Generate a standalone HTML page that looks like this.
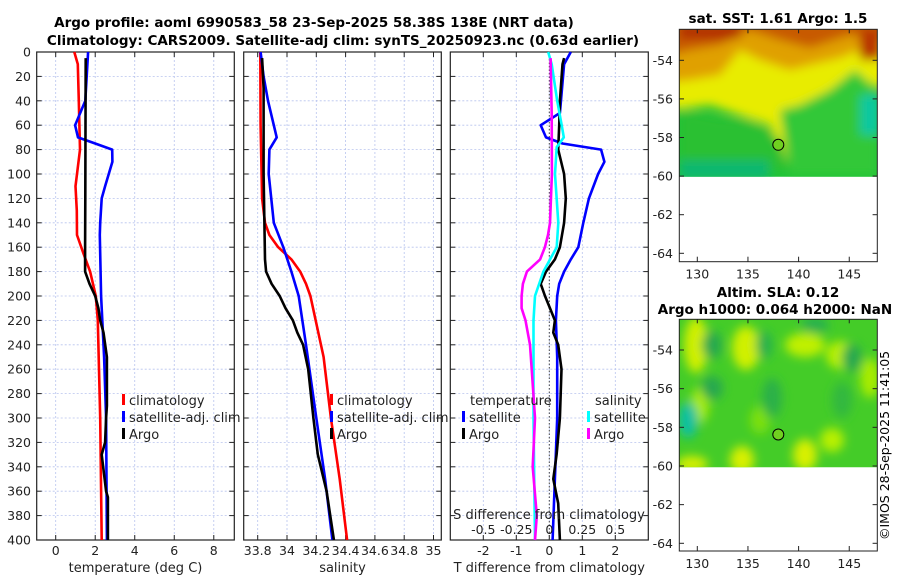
<!DOCTYPE html>
<html><head><meta charset="utf-8"><style>
body{margin:0;background:#fff;}
svg{display:block;font-family:"DejaVu Sans","Liberation Sans",sans-serif;}
</style></head><body>
<svg id="c" width="900" height="580" viewBox="0 0 900 580">
<defs>
<filter id="bl" x="-30%" y="-30%" width="160%" height="160%"><feGaussianBlur stdDeviation="5"/></filter>
<filter id="bl2" x="-50%" y="-50%" width="200%" height="200%"><feGaussianBlur stdDeviation="5"/></filter>
<clipPath id="m1c"><rect x="679.3" y="29.3" width="198" height="147.4"/></clipPath>
<clipPath id="m2c"><rect x="679.3" y="319.3" width="198" height="148"/></clipPath>
</defs>
<g font-weight="bold" font-size="13.5" text-anchor="middle">
<text x="314" y="27">Argo profile: aoml 6990583_58 23-Sep-2025 58.38S 138E (NRT data)</text>
<text x="343" y="45">Climatology: CARS2009. Satellite-adj clim: synTS_20250923.nc (0.63d earlier)</text>
</g>
<g id="plots"></g>
<g>
<text x="778" y="23" font-weight="bold" font-size="13.5" text-anchor="middle">sat. SST: 1.61 Argo: 1.5</text>
<g clip-path="url(#m1c)">
<rect x="679" y="29" width="199" height="148" fill="#20c438"/>
<g filter="url(#bl)">
<polygon points="670,20 890,20 890,90 860,80 820,120 790,170 770,125 740,115 710,105 670,110" fill="#e8ec00"/>
<polygon points="670,20 890,20 890,60 860,50 840,58 810,65 790,70 760,60 740,50 720,75 690,80 670,82" fill="#e0a000"/>
<polygon points="670,20 890,20 890,40 850,35 810,48 780,40 750,30 720,45 690,50 670,55" fill="#c85a00"/>
<rect x="680" y="26" width="60" height="12" fill="#b02800"/>
<rect x="860" y="30" width="20" height="30" fill="#b83000"/>
<polygon points="680,110 720,118 750,120 770,130 780,140 790,170 680,170" fill="#2cc030"/>
<polygon points="780,110 800,105 830,90 855,70 878,90 878,176 790,176" fill="#30c838"/>
<rect x="860" y="95" width="20" height="40" fill="#10c8a0"/>
<rect x="679" y="160" width="90" height="20" fill="#10b870"/>
</g>
</g>
<rect x="679.3" y="29.3" width="198" height="232.4" fill="none" stroke="#222" stroke-width="1"/>
<circle cx="778.3" cy="144.8" r="5.5" fill="#70d020" stroke="#000" stroke-width="1"/>
<g id="m1ax"></g>
</g>
<g>
<text x="778" y="297" font-weight="bold" font-size="13.5" text-anchor="middle">Altim. SLA: 0.12</text>
<text x="775" y="314" font-weight="bold" font-size="13.5" text-anchor="middle">Argo h1000: 0.064 h2000: NaN</text>
<g clip-path="url(#m2c)">
<rect x="679" y="319" width="199" height="149" fill="#44cc28"/>
<g filter="url(#bl2)">
<ellipse cx="696" cy="345" rx="12" ry="28" fill="#d0f000"/>
<ellipse cx="746" cy="348" rx="14" ry="22" fill="#d0f000"/>
<ellipse cx="805" cy="345" rx="20" ry="12" fill="#c0f000"/>
<ellipse cx="840" cy="355" rx="14" ry="14" fill="#b8f000"/>
<ellipse cx="700" cy="405" rx="9" ry="18" fill="#a8ec00"/>
<ellipse cx="742" cy="460" rx="12" ry="14" fill="#d8f000"/>
<ellipse cx="805" cy="455" rx="12" ry="16" fill="#d8f000"/>
<ellipse cx="832" cy="440" rx="12" ry="12" fill="#b8f000"/>
<ellipse cx="870" cy="378" rx="10" ry="20" fill="#a8ec00"/>
<ellipse cx="692" cy="464" rx="16" ry="8" fill="#d8f000"/>
<ellipse cx="760" cy="420" rx="10" ry="14" fill="#7ce010"/>
<ellipse cx="712" cy="345" rx="10" ry="14" fill="#28a850"/>
<ellipse cx="712" cy="388" rx="11" ry="12" fill="#28a850"/>
<ellipse cx="764" cy="345" rx="8" ry="14" fill="#28b050"/>
<ellipse cx="815" cy="325" rx="14" ry="8" fill="#28b050"/>
<ellipse cx="772" cy="398" rx="10" ry="20" fill="#2cb048"/>
<ellipse cx="852" cy="358" rx="10" ry="14" fill="#28a850"/>
<ellipse cx="688" cy="420" rx="10" ry="18" fill="#10c0a0"/>
<ellipse cx="842" cy="400" rx="10" ry="18" fill="#30b840"/>
</g>
</g>
<rect x="679.3" y="319.3" width="198" height="231.7" fill="none" stroke="#222" stroke-width="1"/>
<circle cx="778.3" cy="434.5" r="5.5" fill="#70d020" stroke="#000" stroke-width="1"/>
<g id="m2ax"></g>
</g>
<text transform="translate(889,540) rotate(-90)" font-size="12.5">©IMOS 28-Sep-2025 11:41:05</text>
</svg>
<script>
// ---- data (depth in m) ----
const tClimDepth=[0,10,40,80,100,110,130,150,165,180,200,220,300,400];
const tClimVal=[0.94,1.12,1.17,1.23,1.08,1.0,1.07,1.08,1.4,1.74,2.03,2.13,2.25,2.33];
const tSatDepth=[0,40,60,70,75,80,90,110,120,140,150,200,250,300,400];
const tSatVal=[1.64,1.5,0.98,1.13,2.0,2.86,2.87,2.5,2.33,2.25,2.23,2.3,2.45,2.55,2.59];
const tArgoDepth=[5,60,120,160,180,190,200,210,220,230,250,290,300,320,330,360,365,400];
const tArgoVal=[1.52,1.51,1.5,1.49,1.49,1.71,2.0,2.16,2.25,2.42,2.59,2.59,2.55,2.5,2.33,2.55,2.64,2.64];
const sClimDepth=[0,60,120,140,150,160,170,180,190,200,250,300,350,400];
const sClimVal=[33.818,33.82,33.83,33.85,33.88,33.94,34.03,34.09,34.13,34.16,34.25,34.30,34.36,34.41];
const sSatDepth=[0,20,40,60,70,80,100,140,160,180,200,240,300,350,400];
const sSatVal=[33.82,33.84,33.87,33.91,33.93,33.88,33.875,33.91,33.975,34.03,34.08,34.13,34.20,34.26,34.31];
const sArgoDepth=[5,30,100,170,180,190,200,210,220,230,240,260,300,330,360,400];
const sArgoVal=[33.83,33.84,33.84,33.85,33.857,33.895,33.95,33.99,34.04,34.07,34.11,34.145,34.18,34.21,34.27,34.32];
const dtSatDepth=[0,10,50,60,70,75,80,90,100,120,140,160,170,180,190,200,220,250,300,350,400];
const dtSatVal=[0.65,0.45,0.32,-0.26,-0.1,0.4,1.57,1.67,1.48,1.2,1.03,0.88,0.65,0.45,0.3,0.24,0.2,0.24,0.24,0.17,0.1];
const dtArgoDepth=[5,10,40,60,80,100,120,140,160,170,180,190,200,210,220,230,240,260,300,330,350,370,400];
const dtArgoVal=[0.45,0.4,0.32,0.3,0.27,0.45,0.5,0.45,0.32,0.17,-0.1,-0.26,-0.13,0.02,0.17,0.12,0.27,0.37,0.32,0.22,0.12,0.27,0.32];
const dsSatDepth=[0,10,40,60,70,78,100,140,160,180,200,220,300,400];
const dsSatVal=[-0.008,0.018,0.06,0.094,0.11,0.056,0.043,0.068,0.056,-0.045,-0.108,-0.12,-0.12,-0.108];
const dsArgoDepth=[5,50,100,140,150,160,170,180,190,200,210,220,240,260,300,340,380,400];
const dsArgoVal=[0.01,0.018,0.02,0.005,-0.01,-0.033,-0.07,-0.17,-0.2,-0.21,-0.21,-0.18,-0.146,-0.133,-0.108,-0.126,-0.095,-0.108];
const depthTicks=[0,20,40,60,80,100,120,140,160,180,200,220,240,260,280,300,320,340,360,380,400];
const tTicks=[0,2,4,6,8];
const sTicks=[33.8,34,34.2,34.4,34.6,34.8,35];
const sTickLabels=['33.8','34','34.2','34.4','34.6','34.8','35'];
const dtTicks=[-2,-1,0,1,2];
const dsTicks=[-0.5,-0.25,0,0.25,0.5];
const dsTickLabels=['-0.5','-0.25','0','0.25','0.5'];
const latTicks=[-54,-56,-58,-60,-62,-64];
const lonTicks=[130,135,140,145];

const NS='http://www.w3.org/2000/svg';
const svg=document.getElementById('c');
const plots=document.getElementById('plots');
const Y0=52, Y1=540;
const yD=d=>Y0+(Y1-Y0)*d/400;
function mk(tag,attrs,parent){const e=document.createElementNS(NS,tag);for(const k in attrs)e.setAttribute(k,attrs[k]);(parent||plots).appendChild(e);return e;}
function txt(x,y,s,anchor,size,parent){const t=mk('text',{x:x,y:y,'font-size':size||12.5,'text-anchor':anchor||'middle',fill:'#222'},parent);t.textContent=s;return t;}

function panel(name,x0,x1,xs,xt,xtl,label){
  const g=mk('g',{});
  
  
  xt.forEach(v=>{mk('line',{x1:xs(v),x2:xs(v),y1:Y0,y2:Y1,stroke:'#b8c4ee','stroke-width':0.8,'stroke-dasharray':'2,2'},g);});
  depthTicks.forEach(d=>{if(d>0&&d<400)mk('line',{x1:x0,x2:x1,y1:yD(d),y2:yD(d),stroke:'#b8c4ee','stroke-width':0.8,'stroke-dasharray':'2,2'},g);});
  mk('rect',{x:x0,y:Y0,width:x1-x0,height:Y1-Y0,fill:'none',stroke:'#222','stroke-width':1.2},g);
  depthTicks.forEach(d=>{mk('line',{x1:x0,x2:x0+5,y1:yD(d),y2:yD(d),stroke:'#222'},g);mk('line',{x1:x1-5,x2:x1,y1:yD(d),y2:yD(d),stroke:'#222'},g);});
  xt.forEach((v,i)=>{mk('line',{x1:xs(v),x2:xs(v),y1:Y1,y2:Y1-5,stroke:'#222'},g);mk('line',{x1:xs(v),x2:xs(v),y1:Y0,y2:Y0+5,stroke:'#222'},g);
    const t=txt(xs(v),555,xtl?xtl[i]:String(v),'middle',12.5,g);
    
    });
  const l=txt((x0+x1)/2,572,label,'middle',13,g);
  
  
  return g;
}
function line(g,depths,vals,xs,color,name){
  const p=depths.map((d,i)=>xs(vals[i]).toFixed(1)+','+yD(d).toFixed(1)).join(' ');
  const e=mk('polyline',{points:p,fill:'none',stroke:color,'stroke-width':2.6,'stroke-linejoin':'round'},g);
  
  
}
depthTicks.forEach(d=>{const t=txt(31,yD(d)+4.5,String(d),'end',12.5);
  
  });

const xT=v=>55.7+19.76*v;
const g1=panel('temperature-panel',36.7,234.3,xT,tTicks,null,'temperature (deg C)');
line(g1,tClimDepth,tClimVal,xT,'#ff0000','temp-climatology-line');
line(g1,tSatDepth,tSatVal,xT,'#0000ff','temp-satellite-line');
line(g1,tArgoDepth,tArgoVal,xT,'#000000','temp-argo-line');
function legend(g,x,y,items){items.forEach((it,i)=>{mk('rect',{x:x,y:y+i*17-11,width:3,height:11,fill:it[1]},g);
  const t=txt(x+7,y+i*17,it[0],'start',13,g);
  
  });}
legend(g1,122,405,[['climatology','#ff0000'],['satellite-adj. clim','#0000ff'],['Argo','#000']]);

const xS=v=>257.7+146.5*(v-33.8);
const g2=panel('salinity-panel',243.7,441.3,xS,sTicks,sTickLabels,'salinity');
line(g2,sClimDepth,sClimVal,xS,'#ff0000','sal-climatology-line');
line(g2,sSatDepth,sSatVal,xS,'#0000ff','sal-satellite-line');
line(g2,sArgoDepth,sArgoVal,xS,'#000000','sal-argo-line');
legend(g2,330,405,[['climatology','#ff0000'],['satellite-adj. clim','#0000ff'],['Argo','#000']]);

const xdT=v=>549.3+33*v;
const xdS=v=>549.3+132*v;
const g3=panel('difference-panel',450.3,648.3,xdT,dtTicks,null,'T difference from climatology');
mk('line',{x1:xdT(0),x2:xdT(0),y1:Y0,y2:Y1,stroke:'#444','stroke-width':1,'stroke-dasharray':'1.5,2'},g3);
line(g3,dtSatDepth,dtSatVal,xdT,'#0000ff','dt-satellite-line');
line(g3,dtArgoDepth,dtArgoVal,xdT,'#000000','dt-argo-line');
line(g3,dsSatDepth,dsSatVal,xdS,'#00ffff','ds-satellite-line');
line(g3,dsArgoDepth,dsArgoVal,xdS,'#ff00ff','ds-argo-line');
txt(470,405,'temperature','start',13,g3);
txt(595,405,'salinity','start',13,g3);
legend(g3,462,422,[['satellite','#0000ff'],['Argo','#000']]);
legend(g3,587,422,[['satellite','#00ffff'],['Argo','#ff00ff']]);
const st=txt(549,519,'S difference from climatology','middle',13,g3);


dsTicks.forEach((v,i)=>{const t=txt(xdS(v),534,dsTickLabels[i],'middle',12.5,g3);
  
  });

function mapAx(id,top,bottom,latY){
  const g=document.getElementById(id);
  latTicks.forEach(v=>{const y=latY(v);mk('line',{x1:679.3,x2:684,y1:y,y2:y,stroke:'#222'},g);mk('line',{x1:872.6,x2:877.3,y1:y,y2:y,stroke:'#222'},g);
    const t=txt(673,y+4.5,String(v),'end',12.5,g);
    
    });
  lonTicks.forEach(v=>{const x=697.3+10.13*(v-130);mk('line',{x1:x,x2:x,y1:bottom,y2:bottom-5,stroke:'#222'},g);mk('line',{x1:x,x2:x,y1:top,y2:top+4,stroke:'#222'},g);
    const t=txt(x,bottom+17,String(v),'middle',12.5,g);
    
    });
}
mapAx('m1ax',29.3,261.7,v=>60.3+(-54-v)*19.3);
mapAx('m2ax',319.3,551,v=>350+(-54-v)*19.33);
</script>
</body></html>
